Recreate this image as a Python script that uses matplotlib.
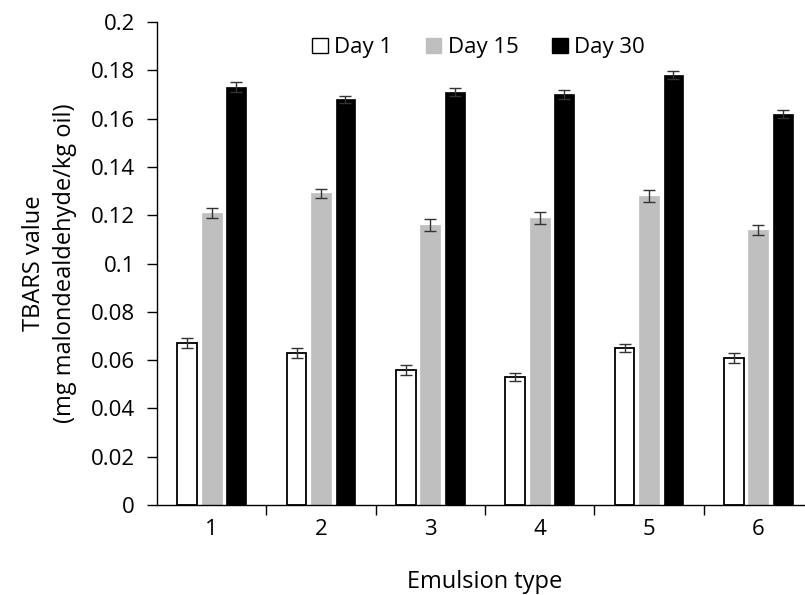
import numpy as np
import matplotlib
matplotlib.use("Agg")
import matplotlib.pyplot as plt

plt.rcParams["font.family"] = ["Open Sans", "DejaVu Sans"]

emulsions = ["1", "2", "3", "4", "5", "6"]
series = ["Day 1", "Day 15", "Day 30"]
day1 = [0.067, 0.063, 0.056, 0.053, 0.065, 0.061]
day15 = [0.121, 0.129, 0.116, 0.119, 0.128, 0.114]
day30 = [0.173, 0.168, 0.171, 0.170, 0.178, 0.162]
err1 = [0.002, 0.002, 0.002, 0.0018, 0.0018, 0.002]
err15 = [0.002, 0.002, 0.0025, 0.0025, 0.0025, 0.002]
err30 = [0.002, 0.0015, 0.0017, 0.002, 0.0017, 0.0017]

values = [day1, day15, day30]
errors = [err1, err15, err30]
faces = ["white", "#bfbfbf", "black"]
edges = ["black", "#bfbfbf", "black"]

fig = plt.figure(figsize=(8.05, 5.95), dpi=100)
ax = fig.add_axes([157 / 805, 90 / 595, 656 / 805, 483 / 595])

x = np.arange(1, len(emulsions) + 1)
step = 0.224
width = 0.18
for i, (vals, errs) in enumerate(zip(values, errors)):
    pos = x + (i - 1) * step
    ax.bar(pos, vals, width, color=faces[i], edgecolor=edges[i],
           linewidth=1.3 if i == 0 else 0.5, label=series[i], zorder=2)
    ax.errorbar(pos, vals, yerr=errs, fmt="none", ecolor="#333333",
                elinewidth=1.0, capsize=4, capthick=1.0, zorder=3)

ax.set_xlim(0.5, 6.5)
ax.set_ylim(0, 0.2)
ax.set_yticks(np.arange(0, 0.201, 0.02))
ax.set_yticklabels(["0", "0.02", "0.04", "0.06", "0.08", "0.1",
                    "0.12", "0.14", "0.16", "0.18", "0.2"])
ax.set_xticks(x)
ax.set_xticklabels(emulsions)
ax.set_xticks(np.arange(1.5, 6.5, 1.0), minor=True)
ax.tick_params(axis="x", which="major", length=0, pad=10, labelsize=16)
ax.tick_params(axis="x", which="minor", length=7, direction="out", width=1)
ax.tick_params(axis="y", length=7, direction="out", width=1, labelsize=16, pad=9)

for s in ["top", "right"]:
    ax.spines[s].set_visible(False)
for s in ["left", "bottom"]:
    ax.spines[s].set_linewidth(1.0)

ax.set_xlabel("Emulsion type", fontsize=17, labelpad=22)
ax.set_ylabel("TBARS value\n(mg malondealdehyde/kg oil)", fontsize=17,
              labelpad=10, linespacing=1.35)

leg = ax.legend(loc="upper center", bbox_to_anchor=(0.49, 1.01), ncol=3,
                frameon=False, fontsize=16, handlelength=0.7,
                handleheight=0.7, handletextpad=0.3, columnspacing=1.5)
for h in leg.legend_handles:
    h.set_linewidth(1.0)

fig.savefig("out.png", dpi=100)
